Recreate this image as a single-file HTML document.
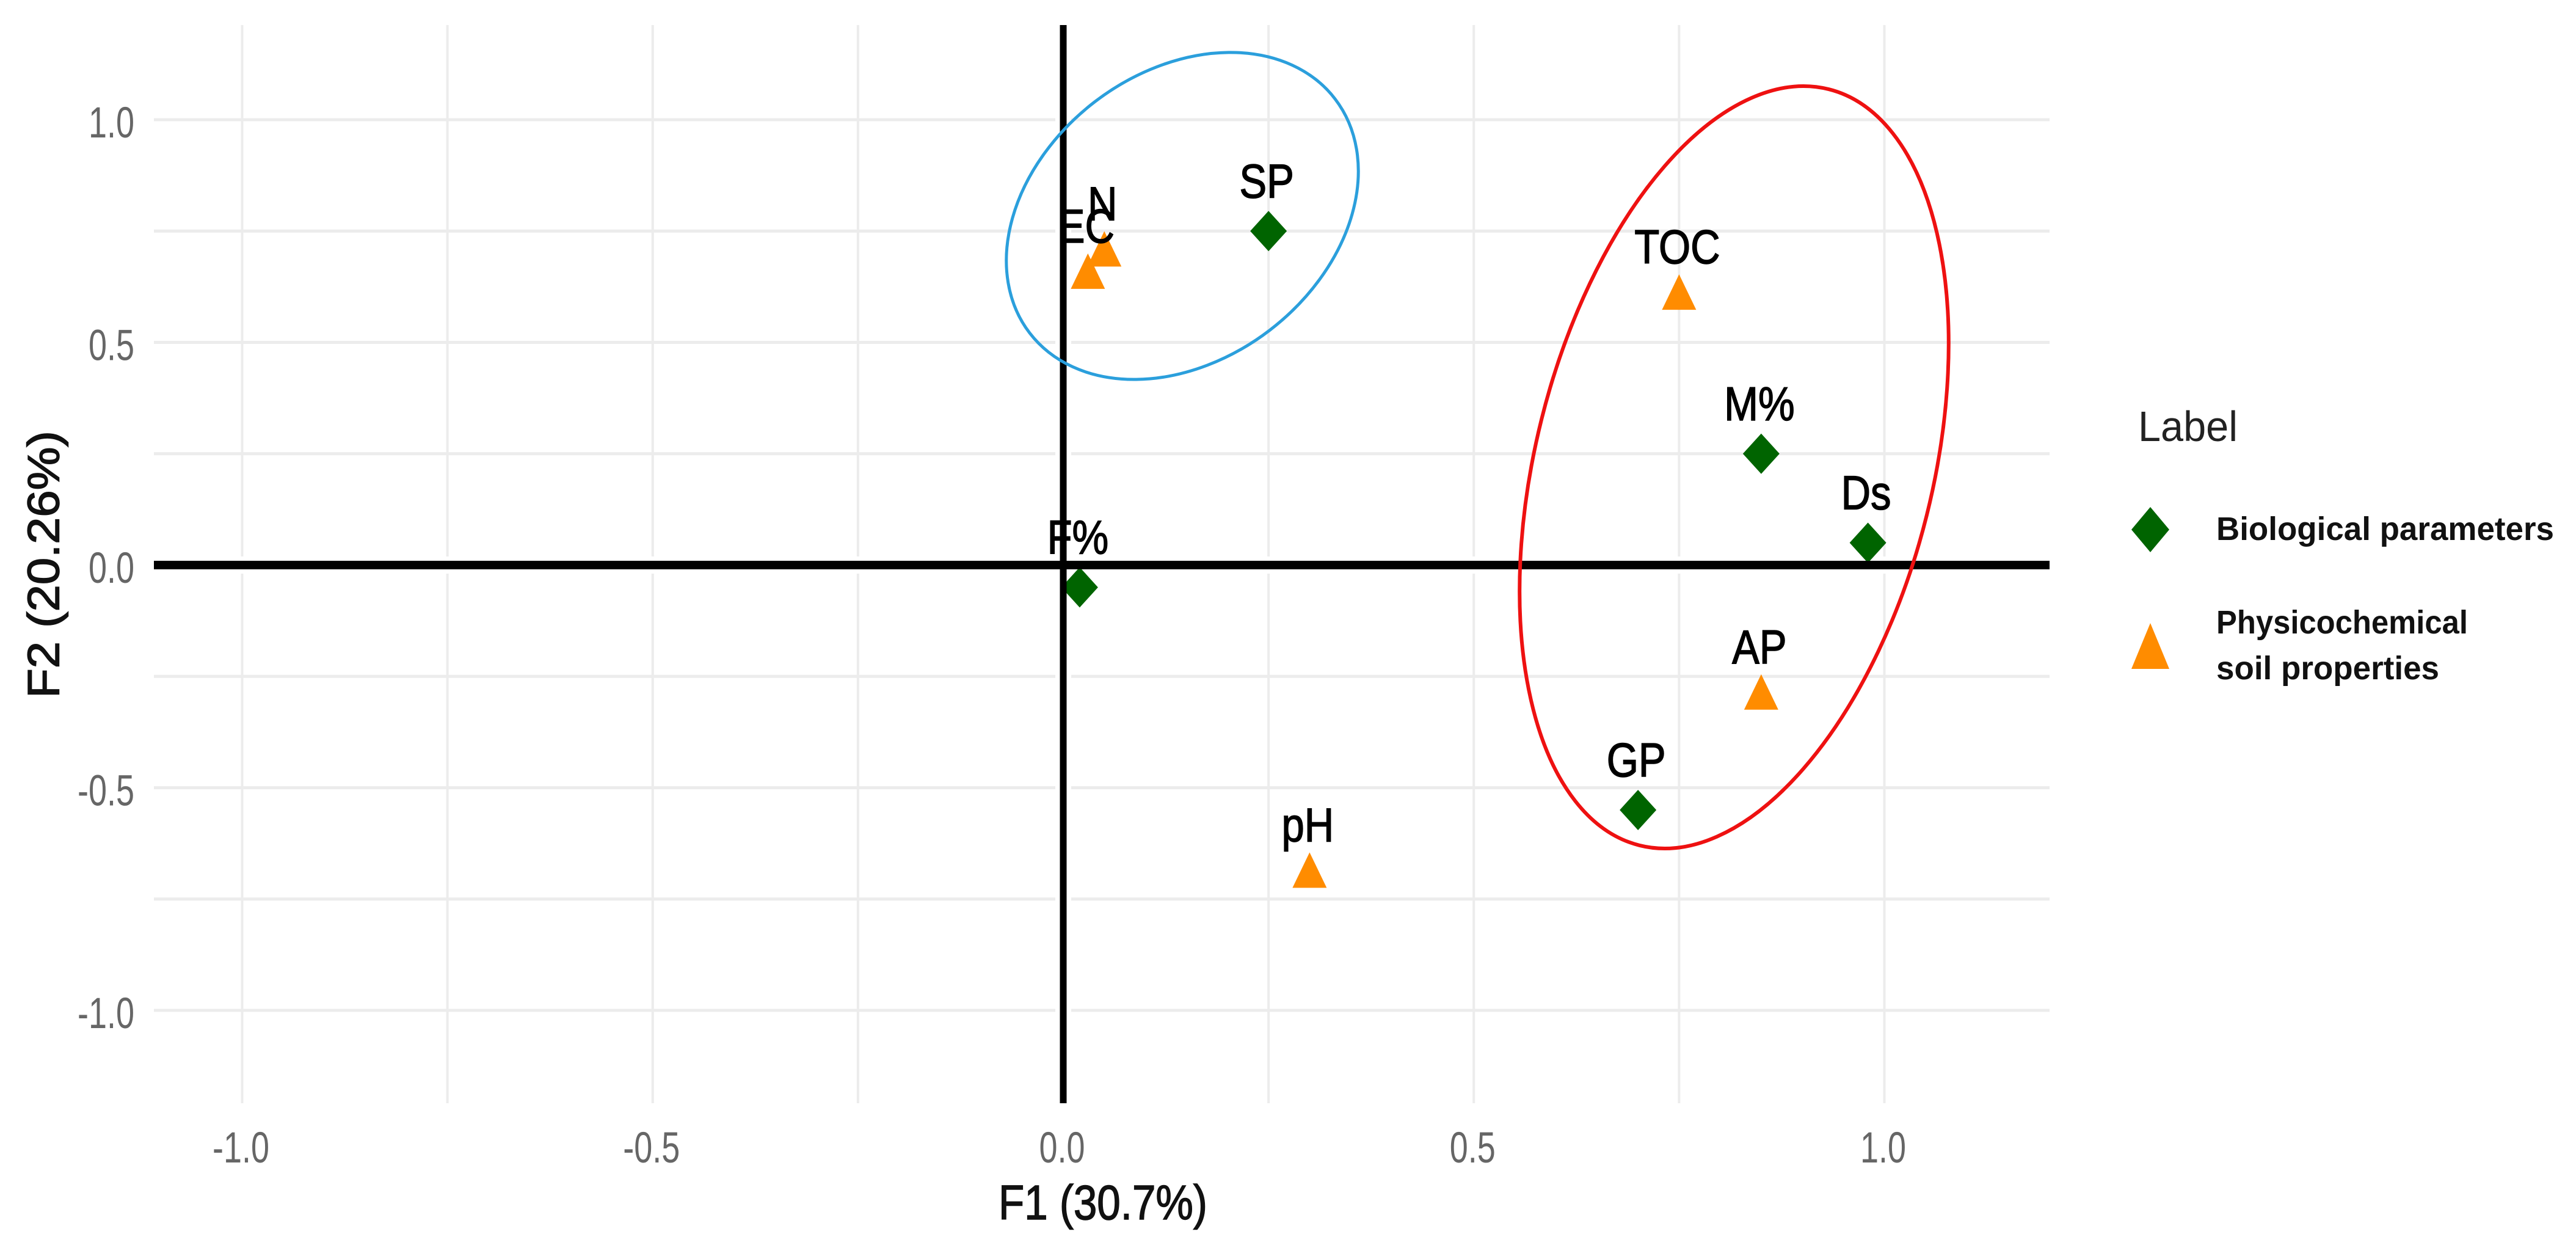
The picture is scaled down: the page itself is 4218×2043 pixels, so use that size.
<!DOCTYPE html>
<html>
<head>
<meta charset="utf-8">
<title>PCA biplot F1 vs F2</title>
<style>
  html, body { margin: 0; padding: 0; background: #ffffff; }
  svg { display: block; }
  text { font-family: "Liberation Sans", sans-serif; }
</style>
</head>
<body>
<svg id="chart" xmlns="http://www.w3.org/2000/svg" width="4218" height="2043" viewBox="0 0 4218 2043">
  <rect x="0" y="0" width="4218" height="2043" fill="#ffffff"/>
  <g id="grid"></g>
  <g id="points"></g>
  <g id="labels"></g>
  <g id="axes"></g>
  <g id="ticks"></g>

  <ellipse cx="1936" cy="353.5" rx="315" ry="235.5" transform="rotate(-37.45 1936 353.5)" fill="none" stroke="#2b9fdc" stroke-width="5"/>
  <ellipse cx="2839.5" cy="765" rx="638" ry="325" transform="rotate(-75.95 2839.5 765)" fill="none" stroke="#ee1111" stroke-width="6"/>

  <text transform="translate(1635,1996) scale(0.864,1)" font-size="80" fill="#111111" stroke="#111111" stroke-width="1.5">F1 (30.7%)</text>
  <text transform="translate(96.5,924) rotate(-90) scale(1.09,1)" font-size="73" fill="#111111" stroke="#111111" stroke-width="1.5" text-anchor="middle">F2 (20.26%)</text>

  <g>
    <text x="3501" y="722" font-size="70" fill="#222222" textLength="163" lengthAdjust="spacingAndGlyphs">Label</text>
    <polygon points="3521,830 3552,867 3521,904 3490,867" fill="#006400"/>
    <text x="3629" y="884" font-size="54" font-weight="bold" fill="#111111" textLength="553" lengthAdjust="spacingAndGlyphs">Biological  parameters</text>
    <polygon points="3521,1020 3552,1095 3490,1095" fill="#ff8c00"/>
    <text x="3629" y="1037" font-size="54" font-weight="bold" fill="#111111" textLength="412" lengthAdjust="spacingAndGlyphs">Physicochemical</text>
    <text x="3629" y="1112" font-size="54" font-weight="bold" fill="#111111" textLength="365" lengthAdjust="spacingAndGlyphs">soil properties</text>
  </g>
</svg>

<script>
// Chart data
const pointNames = ["SP", "N", "EC", "TOC", "M%", "Ds", "F%", "AP", "GP", "pH"];
const f1Values = [0.25, 0.05, 0.03, 0.75, 0.85, 0.98, 0.02, 0.85, 0.70, 0.30];
const f2Values = [0.75, 0.71, 0.66, 0.613, 0.25, 0.05, -0.05, -0.285, -0.55, -0.685];
const pointGroups = ["bio", "phys", "phys", "phys", "bio", "bio", "bio", "phys", "bio", "phys"];
const gridXValues = [-1, -0.75, -0.5, -0.25, 0, 0.25, 0.5, 0.75, 1];
const gridYValues = [-1, -0.75, -0.5, -0.25, 0, 0.25, 0.5, 0.75, 1];
const xTickValues = [-1, -0.5, 0, 0.5, 1];
const yTickValues = [-1, -0.5, 0, 0.5, 1];
const xTickLabels = ["-1.0", "-0.5", "0.0", "0.5", "1.0"];
const yTickLabels = ["-1.0", "-0.5", "0.0", "0.5", "1.0"];

const NS = "http://www.w3.org/2000/svg";
const panelLeft = 252, panelRight = 3356, panelTop = 41, panelBottom = 1806;
function xScale(v) { return 1741 + 1344.5 * v; }
function yScale(v) { return 925 - 729 * v; }

function make(tag, parent, attrs) {
  const el = document.createElementNS(NS, tag);
  for (const k in attrs) el.setAttribute(k, attrs[k]);
  parent.appendChild(el);
  return el;
}

const gridG = document.getElementById("grid");
gridXValues.forEach(function (v) {
  const l = make("line", gridG, { x1: xScale(v), x2: xScale(v), y1: panelTop, y2: panelBottom, stroke: "#ececec", "stroke-width": 4 });
  
  
});
gridYValues.forEach(function (v) {
  const l = make("line", gridG, { x1: panelLeft, x2: panelRight, y1: yScale(v), y2: yScale(v), stroke: "#ececec", "stroke-width": 5 });
  
  
});
const haloV = make("line", gridG, { x1: xScale(0), x2: xScale(0), y1: panelTop, y2: panelBottom, stroke: "#ffffff", "stroke-width": 26 });


const haloH = make("line", gridG, { x1: panelLeft, x2: panelRight, y1: yScale(0), y2: yScale(0), stroke: "#ffffff", "stroke-width": 28 });



const pointsG = document.getElementById("points");
const labelsG = document.getElementById("labels");
pointNames.forEach(function (name, i) {
  const cx = xScale(f1Values[i]);
  const cy = yScale(f2Values[i]);
  let mark, offset;
  if (pointGroups[i] === "bio") {
    mark = make("polygon", pointsG, {
      points: [cx, cy - 33, cx + 30, cy, cx, cy + 33, cx - 30, cy].join(" "),
      fill: "#006400"
    });
    offset = 55;
  } else {
    mark = make("polygon", pointsG, {
      points: [cx, cy - 29, cx + 28, cy + 29, cx - 28, cy + 29].join(" "),
      fill: "#ff8c00"
    });
    offset = 47;
  }
  
  

  const t = make("text", labelsG, {
    transform: "translate(" + (cx - 3) + "," + (cy - offset) + ") scale(0.86,1)",
    "font-size": 78,
    "text-anchor": "middle",
    fill: "#000000",
    stroke: "#000000",
    "stroke-width": 1.5
  });
  t.textContent = name;
  
  
});

const axesG = document.getElementById("axes");
const axisV = make("line", axesG, { x1: xScale(0), x2: xScale(0), y1: panelTop, y2: panelBottom, stroke: "#000000", "stroke-width": 11 });


const axisH = make("line", axesG, { x1: panelLeft, x2: panelRight, y1: yScale(0), y2: yScale(0), stroke: "#000000", "stroke-width": 14 });



const ticksG = document.getElementById("ticks");
xTickValues.forEach(function (v, i) {
  const t = make("text", ticksG, {
    transform: "translate(" + (xScale(v) - 2) + ",1903) scale(0.76,1)",
    "font-size": 71,
    "text-anchor": "middle",
    fill: "#666666"
  });
  t.textContent = xTickLabels[i];
  
  
});
yTickValues.forEach(function (v, i) {
  const t = make("text", ticksG, {
    transform: "translate(220," + (yScale(v) + 29) + ") scale(0.76,1)",
    "font-size": 71,
    "text-anchor": "end",
    fill: "#666666"
  });
  t.textContent = yTickLabels[i];
  
  
});
</script>
</body>
</html>
